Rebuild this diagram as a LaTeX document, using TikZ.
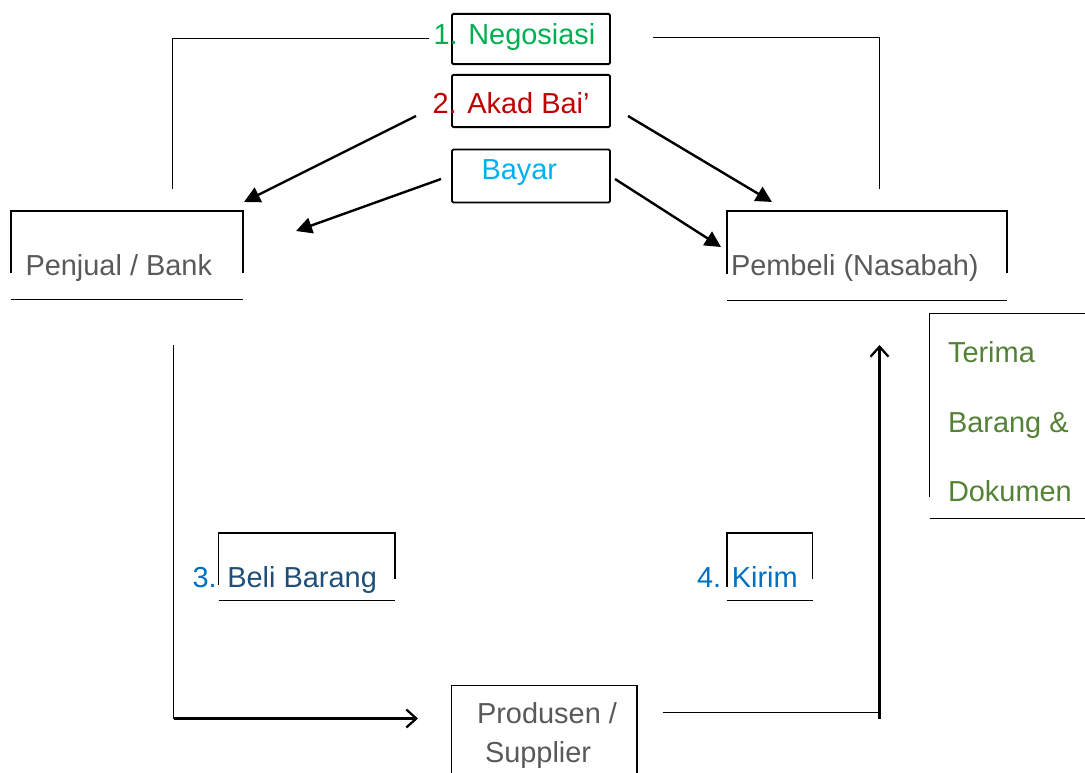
\documentclass[tikz,border=0pt]{standalone}
\usepackage{fontspec}
\setmainfont{Liberation Sans}
\usetikzlibrary{arrows.meta}
\definecolor{cgreen}{HTML}{00B050}
\definecolor{cred}{HTML}{C00000}
\definecolor{ccyan}{HTML}{00B0F0}
\definecolor{cgray}{HTML}{595959}
\definecolor{cterima}{HTML}{538135}
\definecolor{cblue}{HTML}{0070C0}
\definecolor{cdblue}{HTML}{1F4E79}
\begin{document}
\begin{tikzpicture}[x=0.75pt,y=-0.75pt,
  txt/.style={inner sep=0pt, outer sep=0pt, anchor=base west, font=\fontsize{21.7}{26}\selectfont},
  topbox/.style={draw, line width=1.4pt, rounded corners=1pt, minimum width=118.5pt, inner sep=0pt},
  frame/.style={line width=1.35pt},
  thinline/.style={line width=0.95pt},
  arr/.style={line width=1.8pt, -{Triangle[length=12pt,width=12pt]}},
  barb/.style={line width=1.7pt, -{Straight Barb[length=7.5pt,width=13.5pt]}}]
\useasboundingbox (0,0) rectangle (1085,773);

% top boxes
\node[topbox, minimum height=37.7pt] (negobox) at (531,39) {};
\node[topbox, minimum height=39.2pt] (akadbox) at (531,101) {};
\node[topbox, minimum height=39.7pt] (bayarbox) at (531,176) {};
\node[txt, text=cgreen] (nego) at (433.5,45) {1. Negosiasi};
\node[txt, text=cred] (akad) at (432.5,114) {2. Akad Bai’};
\node[txt, text=ccyan] (bayar) at (481.5,180) {Bayar};

% Penjual / Bank
\draw[frame] (11,273) |- (243,211) -- (243,273);
\draw[frame] (11,299.5) -- (243,299.5);
\node[txt, text=cgray] (penjual) at (25.5,276) {Penjual / Bank};

% Pembeli
\draw[frame] (727,274) |- (1007,211) -- (1007,273);
\draw[frame] (727,300.5) -- (1007,300.5);
\node[txt, text=cgray] (pembeli) at (731,276) {Pembeli (Nasabah)};

% Terima
\draw[frame] (929.5,497) |- (1085,313.5);
\draw[frame] (929.5,518.5) -- (1085,518.5);
\node[txt, text=cterima] (terima1) at (948,363) {Terima};
\node[txt, text=cterima] (terima2) at (948,432) {Barang \&};
\node[txt, text=cterima] (terima3) at (948,501) {Dokumen};

% Beli Barang
\draw[frame] (218.5,585) |- (395,533) -- (395,579);
\draw[frame] (218.5,600.5) -- (395,600.5);
\node[txt] (beli) at (192.5,587) {\textcolor{cblue}{3.} \textcolor{cdblue}{Beli Barang}};

% Kirim
\draw[frame] (727,587) |- (812.5,533) -- (812.5,579);
\draw[frame] (727,600.5) -- (812.5,600.5);
\node[txt] (kirim) at (697,587) {\textcolor{cblue}{4.} \textcolor{cblue}{Kirim}};

% Produsen
\draw[frame] (451.5,773) |- (637,685.5) -- (637,773);
\node[txt, text=cgray] (produsen) at (477,723) {Produsen /};
\node[txt, text=cgray] (supplier) at (485,762) {Supplier};

% connectors
\coordinate (nl1) at (172.5,189);
\coordinate (nl2) at (429,38.3);
\coordinate (nr1) at (653,37.3);
\coordinate (nr2) at (879.3,189);
\draw[thinline] (nl1) |- (nl2);
\draw[thinline] (nr1) -| (nr2);

\coordinate (a1s) at (416,116);
\coordinate (a1e) at (244,202);
\coordinate (a2s) at (441,179);
\coordinate (a2e) at (296,231);
\coordinate (a3s) at (628,116);
\coordinate (a3e) at (772,202);
\coordinate (a4s) at (615,179);
\coordinate (a4e) at (721,247);
\draw[arr] (a1s) -- (a1e);
\draw[arr] (a2s) -- (a2e);
\draw[arr] (a3s) -- (a3e);
\draw[arr] (a4s) -- (a4e);

\coordinate (b1) at (173.5,345);
\coordinate (b2) at (173.5,718.5);
\coordinate (b3) at (418,718.5);
\draw[thinline] (b1) -- (b2);
\draw[barb] (b2) -- (b3);

\coordinate (s1) at (663,712.8);
\coordinate (s2) at (879.5,712.8);
\coordinate (s3) at (879.5,719);
\coordinate (s4) at (879.5,345);
\draw[thinline] (s1) -- (s2);
\draw[barb] (s3) -- (s4);
\end{tikzpicture}
\end{document}
